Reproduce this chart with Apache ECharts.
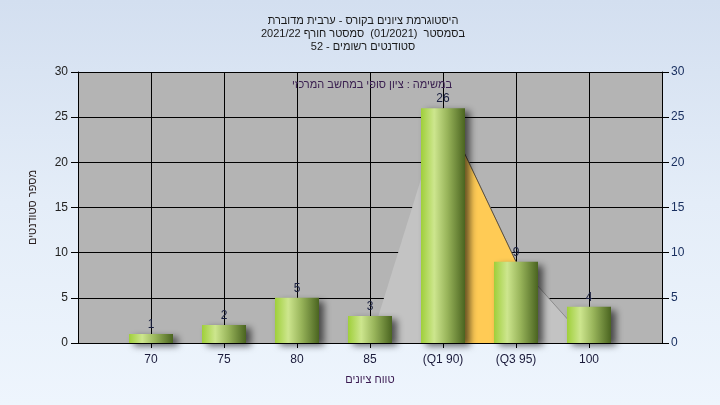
<!DOCTYPE html>
<html>
<head>
<meta charset="utf-8">
<script src="https://cdn.jsdelivr.net/npm/echarts@6/dist/echarts.min.js"></script>
<style>
html,body{margin:0;padding:0;width:720px;height:405px;overflow:hidden;}
#c{width:720px;height:405px;background:linear-gradient(to bottom,#d3dff0 0%,#e4edf8 50%,#eef5fd 100%);}
</style>
</head>
<body>
<div id="c"></div>
<script>
const titleLines = ['היסטוגרמת ציונים בקורס - ערבית מדוברת', 'בסמסטר  (01/2021)  סמסטר חורף 2021/22', 'סטודנטים רשומים - 52'];
const seriesName = 'במשימה : ציון סופי במחשב המרכזי';
const xAxisTitle = 'טווח ציונים';
const yAxisTitle = 'מספר סטודנטים';
const categories = ['', '70', '75', '80', '85', '(Q1 90)', '(Q3 95)', '100', ''];
const counts = [null, 1, 2, 5, 3, 26, 9, 4, null];
const curveRise = [null, null, null, null, 0, 26, null, null, null];
const curveFall = [null, null, null, null, null, 26, 9, 0, null];
const interQuartile = [null, null, null, null, null, 26, 9, null, null];
const yTicks = { min: 0, max: 30, interval: 5 };

const FONT = "'Liberation Sans', Arial, sans-serif";
const chart = echarts.init(document.getElementById('c'));

const yAxisBase = {
  type: 'value', min: yTicks.min, max: yTicks.max, interval: yTicks.interval,
  axisLine: { show: true, lineStyle: { color: '#000', width: 1 } },
  axisTick: { show: true, inside: false, length: 7, lineStyle: { color: '#000' } },
  splitLine: { show: true, lineStyle: { color: '#000', width: 1 } },
  axisLabel: { fontFamily: FONT, fontSize: 12, margin: 9 }
};

chart.setOption({
  animation: false,
  backgroundColor: 'transparent',
  title: {
    text: titleLines.join('\n'),
    left: 358, top: 9, textAlign: 'center',
    textStyle: { fontFamily: FONT, fontSize: 11, fontWeight: 'normal', color: '#1a1a1a', lineHeight: 13 }
  },
  graphic: [{
    type: 'text', left: 292, top: 79, z: 100,
    style: { text: seriesName, font: '11px ' + FONT, fill: '#3a2050' }
  }],
  grid: { left: 78, right: 58, top: 72, bottom: 62, show: true, backgroundColor: '#b4b4b4', borderWidth: 0 },
  xAxis: {
    type: 'category', data: categories, boundaryGap: false,
    name: xAxisTitle, nameLocation: 'middle', nameGap: 31,
    nameTextStyle: { fontFamily: FONT, fontSize: 11, color: '#3a1a50' },
    axisLine: { show: true, lineStyle: { color: '#000' } },
    axisTick: { show: true, length: 5, interval: function (i, v) { return v !== ''; }, lineStyle: { color: '#000' } },
    axisLabel: { fontFamily: FONT, fontSize: 12, color: '#1a1a3a', margin: 11, interval: 0 },
    splitLine: { show: true, interval: function (i, v) { return v !== ''; }, lineStyle: { color: '#000' } }
  },
  yAxis: [
    Object.assign({}, yAxisBase, {
      position: 'left',
      name: yAxisTitle, nameLocation: 'middle', nameGap: 40, nameRotate: 90,
      nameTextStyle: { fontFamily: FONT, fontSize: 11, color: '#2a2020' },
      axisLabel: Object.assign({}, yAxisBase.axisLabel, { color: '#222', margin: 10 })
    }),
    Object.assign({}, yAxisBase, {
      position: 'right',
      splitLine: { show: false },
      axisLabel: Object.assign({}, yAxisBase.axisLabel, { color: '#1a3060', margin: 9 })
    })
  ],
  series: [
    {
      type: 'line', data: curveRise, symbol: 'none', z: 1,
      lineStyle: { width: 0 },
      areaStyle: { color: '#c3c3c3', opacity: 1 }
    },
    {
      type: 'line', data: curveFall, symbol: 'none', z: 1,
      lineStyle: { color: '#8c8c8c', width: 1 },
      areaStyle: { color: '#c3c3c3', opacity: 1 }
    },
    {
      type: 'line', data: interQuartile, symbol: 'none', z: 2,
      lineStyle: { color: '#5a5040', width: 1 },
      areaStyle: { color: '#ffcb55', opacity: 1 }
    },
    {
      type: 'bar', data: counts, barWidth: 44, z: 5,
      itemStyle: {
        color: new echarts.graphic.LinearGradient(0, 0, 1, 0, [
          { offset: 0, color: '#9fcf3a' },
          { offset: 0.3, color: '#cde68e' },
          { offset: 0.6, color: '#98b45a' },
          { offset: 1, color: '#4a6420' }
        ]),
        shadowColor: 'rgba(0,0,0,0.6)', shadowBlur: 7, shadowOffsetX: 5, shadowOffsetY: 3
      },
      label: { show: true, position: 'top', distance: 3, fontFamily: FONT, fontSize: 12, color: '#1a2040' }
    }
  ]
});
</script>
</body>
</html>
